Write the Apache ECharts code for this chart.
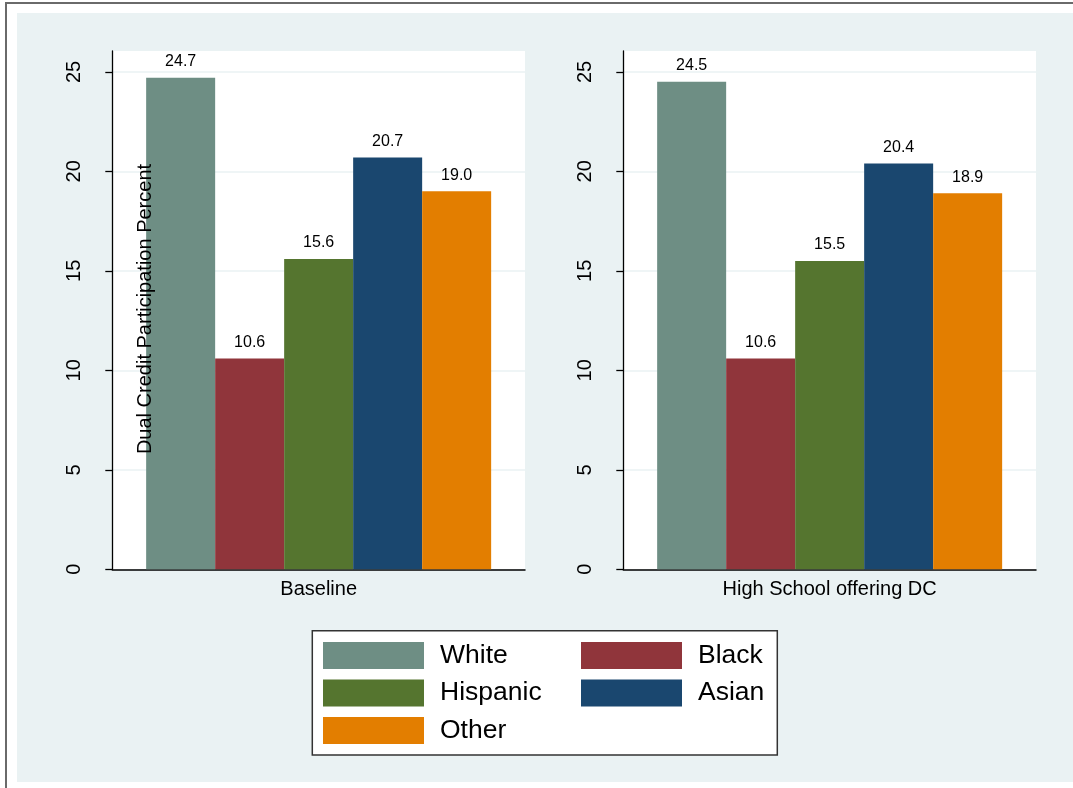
<!DOCTYPE html>
<html>
<head>
<meta charset="utf-8">
<script src="https://cdn.jsdelivr.net/npm/echarts@6/dist/echarts.min.js"></script>
<style>
html,body{margin:0;padding:0;background:#fff;}
#c{width:1073px;height:788px;}
</style>
</head>
<body>
<div id="c"></div>
<script>
const groups = ['Baseline', 'High School offering DC'];
const races = ['White', 'Black', 'Hispanic', 'Asian', 'Other'];
const baselineValues = [24.7, 10.6, 15.6, 20.7, 19.0];
const hsOfferingValues = [24.5, 10.6, 15.5, 20.4, 18.9];
const yTicks = [0, 5, 10, 15, 20, 25];
const yTitle = 'Dual Credit Participation Percent';
const colors = ['#6e8e84', '#90353b', '#55752f', '#1a476f', '#e37e00'];

const FONT = '"Liberation Sans", Arial, sans-serif';
const panelValues = [baselineValues, hsOfferingValues];

const grids = [
  { left: 112.3, top: 51, width: 412.7, height: 518.3, show: true, backgroundColor: '#fff', borderWidth: 0 },
  { left: 623.3, top: 51, width: 412.7, height: 518.3, show: true, backgroundColor: '#fff', borderWidth: 0 }
];

const xAxes = groups.map((g, i) => ({
  type: 'category', gridIndex: i, data: [g],
  axisLine: { lineStyle: { color: '#000', width: 1.5 } },
  axisTick: { show: false },
  axisLabel: { fontFamily: FONT, fontSize: 20, color: '#000', margin: 10 }
}));

const yAxes = groups.map((g, i) => ({
  type: 'value', gridIndex: i, min: 0, max: 26.05, interval: 5,
  axisLine: { show: true, lineStyle: { color: '#000', width: 1.3 } },
  axisTick: { show: true, length: 7, customValues: yTicks, lineStyle: { color: '#000', width: 1.3 } },
  axisLabel: { fontFamily: FONT, fontSize: 20, color: '#000', rotate: 90, margin: 28, customValues: yTicks },
  splitLine: { show: true, lineStyle: { color: '#eaf2f3', width: 1.5 } }
}));

const series = [];
panelValues.forEach((vals, gi) => {
  races.forEach((r, ri) => {
    series.push({
      type: 'bar', name: r, xAxisIndex: gi, yAxisIndex: gi,
      data: [vals[ri]], barWidth: 69, barGap: '0%',
      itemStyle: { color: colors[ri] },
      label: { show: true, position: 'top', distance: 8, fontFamily: FONT, fontSize: 16, color: '#000',
               formatter: p => p.value.toFixed(1) },
      emphasis: { disabled: true }
    });
  });
});

const legendPos = [[323, 640.5], [581, 640.5], [323, 678], [581, 678], [323, 715.5]];
const legends = races.map((r, i) => ({
  data: [r], left: legendPos[i][0], top: legendPos[i][1], padding: 0,
  icon: 'rect', itemWidth: 101, itemHeight: 27, selectedMode: false, z: 10,
  textStyle: { fontFamily: FONT, fontSize: 26.5, color: '#000', padding: [3, 0, 0, 11], lineHeight: 27 }
}));

const chart = echarts.init(document.getElementById('c'), null, { renderer: 'canvas' });
chart.setOption({
  animation: false,
  backgroundColor: 'transparent',
  color: colors,
  grid: grids,
  xAxis: xAxes,
  yAxis: yAxes,
  series: series,
  legend: legends,
  graphic: [
    { type: 'rect', z: -20, silent: true, shape: { x: 6, y: 3, width: 1200, height: 900 },
      style: { fill: '#fff', stroke: '#6a6a6a', lineWidth: 2 } },
    { type: 'rect', z: -19, silent: true, shape: { x: 17, y: 13, width: 1056, height: 769 },
      style: { fill: '#eaf2f3' } },
    { type: 'rect', z: 1, silent: true, shape: { x: 312.3, y: 630.7, width: 465, height: 124.3 },
      style: { fill: '#fff', stroke: '#333', lineWidth: 1.5 } },
    { type: 'text', z: 100, silent: true, x: 145, y: 309, rotation: Math.PI / 2,
      style: { text: yTitle, fontFamily: FONT, fontSize: 20, fill: '#000', align: 'center', verticalAlign: 'middle' } }
  ]
});
</script>
</body>
</html>
